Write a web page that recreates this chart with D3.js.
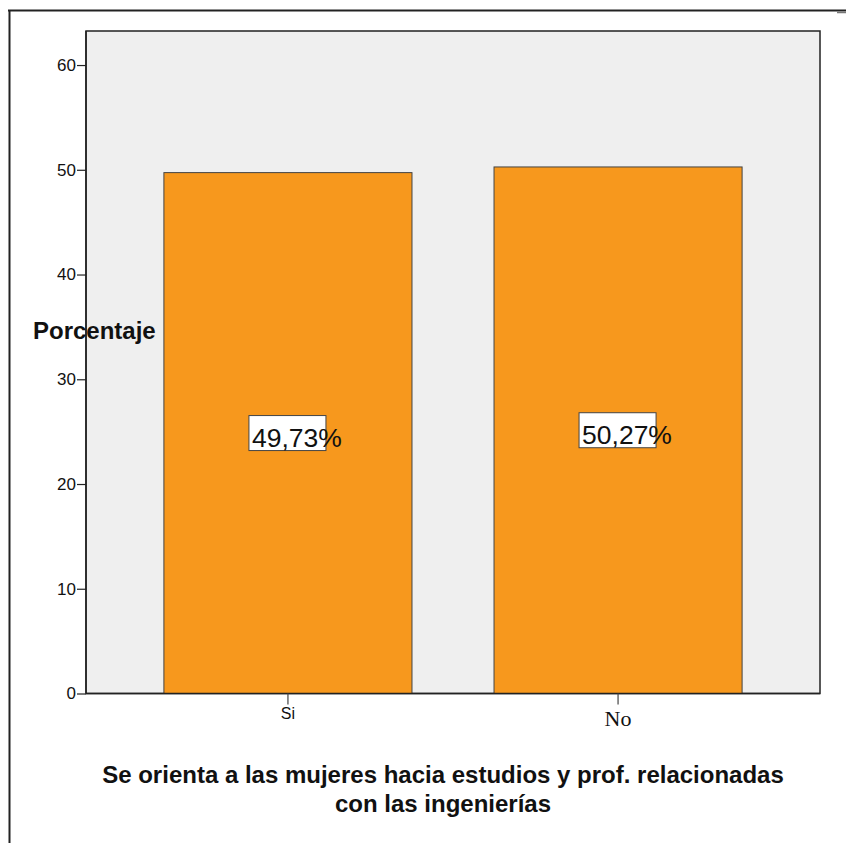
<!DOCTYPE html>
<html><head><meta charset="utf-8">
<script src="https://cdn.jsdelivr.net/npm/d3@7"></script>
<style>body{margin:0;background:#fff}svg{display:block}</style>
</head><body>
<script>
const categories = ["Si", "No"];
const values = [49.73, 50.27];
const valueLabels = ["49,73%", "50,27%"];
const yTicks = [0, 10, 20, 30, 40, 50, 60];
const yLabel = "Porcentaje";
const titleLines = ["Se orienta a las mujeres hacia estudios y prof. relacionadas", "con las ingenierías"];

const W = 846, H = 843;
const svg = d3.select("body").append("svg").attr("width", W).attr("height", H);

// outer frame
svg.append("line").attr("x1", 8).attr("x2", 846).attr("y1", 10.5).attr("y2", 10.5).attr("stroke", "#222").attr("stroke-width", 2);
svg.append("line").attr("x1", 9.5).attr("x2", 9.5).attr("y1", 10).attr("y2", 843).attr("stroke", "#222").attr("stroke-width", 2);
svg.append("line").attr("x1", 837).attr("x2", 846).attr("y1", 12.5).attr("y2", 12.5).attr("stroke", "#777").attr("stroke-width", 1.5);

const pLeft = 86, pRight = 820, pTop = 31, pBottom = 693.5;
const y = d3.scaleLinear().domain([0, 63.25]).range([pBottom, pTop]);
const x = d3.scaleBand().domain(categories).range([pLeft, pRight]).paddingInner(0.2485).paddingOuter(0.236);

svg.append("rect").attr("x", pLeft).attr("y", pTop).attr("width", pRight - pLeft).attr("height", pBottom - pTop)
  .attr("fill", "#efefef").attr("stroke", "#222").attr("stroke-width", 1.5);

svg.selectAll("rect.bar").data(values).enter().append("rect").attr("class", "bar")
  .attr("x", (d, i) => x(categories[i]))
  .attr("y", d => y(d))
  .attr("width", x.bandwidth())
  .attr("height", d => y(0) - y(d))
  .attr("fill", "#f7981d").attr("stroke", "#444").attr("stroke-width", 1);

// baseline / left axis lines
svg.append("line").attr("x1", pLeft).attr("x2", pRight).attr("y1", pBottom).attr("y2", pBottom).attr("stroke", "#222").attr("stroke-width", 1.5);
svg.append("line").attr("x1", pLeft).attr("x2", pLeft).attr("y1", pTop).attr("y2", pBottom).attr("stroke", "#222").attr("stroke-width", 1.5);

// y axis
const yAxis = svg.append("g").attr("transform", `translate(${pLeft},0)`)
  .call(d3.axisLeft(y).tickValues(yTicks).tickSize(9).tickPadding(1).tickFormat(d3.format("d")));
yAxis.select(".domain").remove();
yAxis.selectAll("line").attr("stroke", "#222").attr("stroke-width", 1.2);
yAxis.selectAll("text").attr("font-family", "Arial, 'Liberation Sans', sans-serif").attr("font-size", 17).attr("fill", "#111");

// x axis
const xAxis = svg.append("g").attr("transform", `translate(0,${pBottom})`)
  .call(d3.axisBottom(x).tickSize(11).tickPadding(3));
xAxis.select(".domain").remove();
xAxis.selectAll("line").attr("stroke", "#444").attr("stroke-width", 1.2);
xAxis.selectAll("text").each(function(d, i) {
  const t = d3.select(this);
  if (i === 0) t.attr("font-family", "Arial, 'Liberation Sans', sans-serif").attr("font-size", 16).attr("dy", "0.71em");
  else t.attr("font-family", "'Times New Roman', 'Liberation Serif', serif").attr("font-size", 22).attr("dy", "0.85em");
  t.attr("fill", "#111");
});

// value labels
const lab = svg.selectAll("g.lab").data(values).enter().append("g").attr("class", "lab")
  .attr("transform", (d, i) => `translate(${x(categories[i]) + x.bandwidth() / 2},${y(d / 2)})`);
lab.append("rect").attr("x", -39).attr("y", -17.5).attr("width", 77).attr("height", 35)
  .attr("fill", "#fff").attr("stroke", "#444").attr("stroke-width", 1);
lab.append("text").text((d, i) => valueLabels[i]).attr("x", -36).attr("y", 14)
  .attr("font-family", "Arial, 'Liberation Sans', sans-serif").attr("font-size", 26.5).attr("fill", "#111");

// y label
svg.append("text").text(yLabel).attr("x", 33).attr("y", 339)
  .attr("font-family", "Arial, 'Liberation Sans', sans-serif").attr("font-size", 24).attr("font-weight", "bold").attr("fill", "#111");

// title
svg.selectAll("text.title").data(titleLines).enter().append("text").attr("class", "title")
  .text(d => d).attr("x", 443).attr("y", (d, i) => 783 + i * 28.5).attr("text-anchor", "middle")
  .attr("font-family", "Arial, 'Liberation Sans', sans-serif").attr("font-size", 24).attr("font-weight", "bold").attr("fill", "#111");
</script>
</body></html>
